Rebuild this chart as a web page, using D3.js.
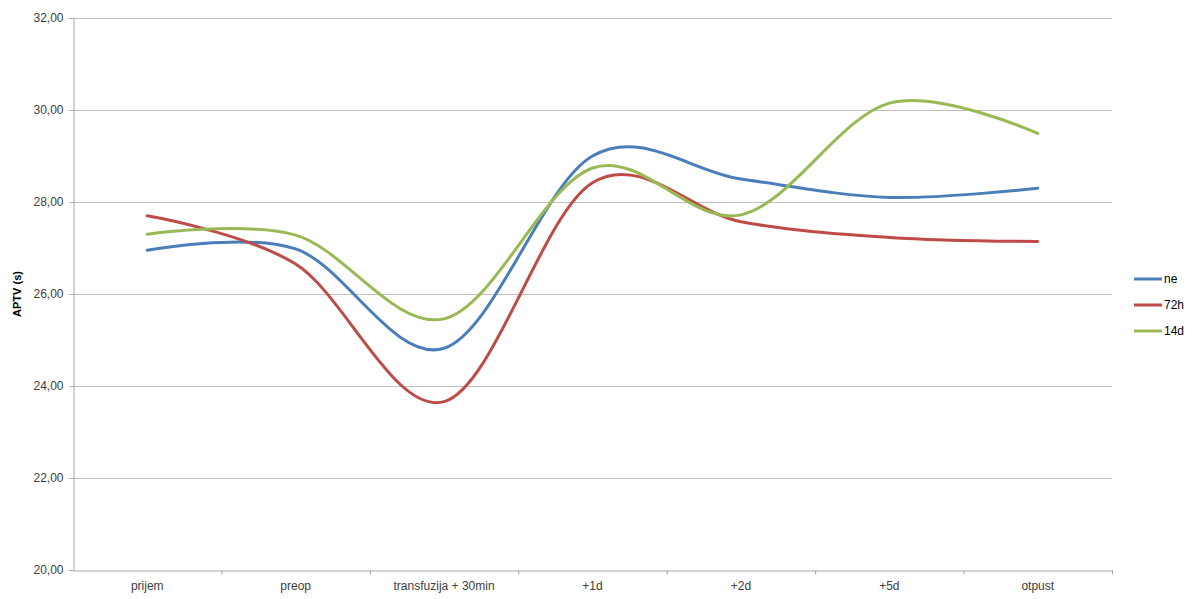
<!DOCTYPE html>
<html><head><meta charset="utf-8">
<script src="https://cdn.jsdelivr.net/npm/d3@7"></script>
<style>body{margin:0;background:#fff}svg{display:block}text{font-family:"Liberation Sans",Arial,sans-serif}</style>
</head><body><svg id="c" width="1193" height="599"></svg>
<script>
const categories = ["prijem","preop","transfuzija + 30min","+1d","+2d","+5d","otpust"];
const seriesNames = ["ne","72h","14d"];
const neValues  = [26.95, 26.98, 24.82, 29.00, 28.50, 28.10, 28.30];
const h72Values = [27.70, 26.65, 23.66, 28.42, 27.57, 27.23, 27.14];
const d14Values = [27.30, 27.28, 25.46, 28.74, 27.72, 30.15, 29.49];
const colors = ["#4a7ebb","#be4b48","#98b954"];
const yTicks = [20,22,24,26,28,30,32];

const svg = d3.select("#c");
const m = {l:73, r:1112, t:18, b:570};
const x = d3.scaleBand().domain(categories).range([m.l, m.r]);
const y = d3.scaleLinear().domain([20,32]).range([m.b, m.t]);
const fmt = v => d3.format(".2f")(v).replace(".", ",");

// gridlines
svg.append("g").selectAll("line").data(yTicks.filter(t=>t>20)).join("line")
  .attr("x1", m.l).attr("x2", m.r).attr("y1", d=>y(d)+0.5).attr("y2", d=>y(d)+0.5)
  .attr("stroke", "#bfbfbf").attr("stroke-width", 1);

// y axis
const ya = svg.append("g").attr("transform", `translate(${m.l+0.5},0)`)
  .call(d3.axisLeft(y).tickValues(yTicks).tickFormat(fmt).tickSize(4).tickPadding(6));
ya.selectAll("path,line").attr("stroke", "#a6a6a6");
ya.selectAll("text").attr("font-size", 12).attr("fill", "#404040").attr("font-family", '"Liberation Sans",Arial,sans-serif');

// x axis
const xa = svg.append("g").attr("transform", `translate(0,${m.b+0.5})`)
  .call(d3.axisBottom(x).tickSize(0).tickPadding(11));
xa.select("path").attr("stroke", "#a6a6a6");
xa.selectAll("text").attr("font-size", 12).attr("fill", "#404040").attr("font-family", '"Liberation Sans",Arial,sans-serif');
xa.append("g").selectAll("line").data(categories.slice(1).concat(["__end"])).join("line")
  .attr("x1", (d,i)=> i < categories.length-1 ? x(d)+0.5 : m.r+0.5)
  .attr("x2", (d,i)=> i < categories.length-1 ? x(d)+0.5 : m.r+0.5)
  .attr("y1", 0).attr("y2", 4).attr("stroke", "#a6a6a6");

// y title
svg.append("text").attr("transform", `translate(21,${(m.t+m.b)/2}) rotate(-90)`)
  .attr("text-anchor","middle").attr("font-size", 11).attr("font-weight","bold").attr("fill","#000")
  .text("APTV (s)");

// lines
const allSeries = [neValues, h72Values, d14Values];
const line = d3.line().x((d,i)=>x(categories[i]) + x.bandwidth()/2).y(d=>y(d)).curve(d3.curveCatmullRom.alpha(0));
svg.append("g").selectAll("path").data(allSeries).join("path")
  .attr("d", line).attr("fill","none").attr("stroke", (d,i)=>colors[i])
  .attr("stroke-width", 3).attr("stroke-linecap","round");

// legend
const lg = svg.append("g").attr("transform","translate(1134,279)");
seriesNames.forEach((n,i)=>{
  const g = lg.append("g").attr("transform", `translate(0,${i*26})`);
  g.append("line").attr("x1",0).attr("x2",28).attr("stroke",colors[i]).attr("stroke-width",3);
  g.append("text").attr("x",30).attr("y",4).attr("font-size",12).attr("fill","#000").text(n);
});
</script></body></html>
